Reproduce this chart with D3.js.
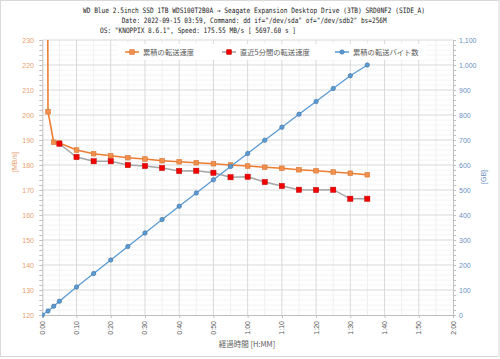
<!DOCTYPE html>
<html><head><meta charset="utf-8">
<script src="https://cdn.jsdelivr.net/npm/d3@7"></script>
<style>body{margin:0;background:#fff}svg{display:block}</style>
</head><body>
<svg id="c" width="500" height="359"></svg>
<script>
// ---- data ----
const titleLines = [
  "WD Blue 2.5inch SSD 1TB WDS100T2B0A → Seagate Expansion Desktop Drive (3TB) SRD0NF2 (SIDE_A)",
  "Date: 2022-09-15 03:59, Command: dd if=\"/dev/sda\" of=\"/dev/sdb2\" bs=256M",
  "OS: \"KNOPPIX 8.6.1\", Speed: 175.55 MB/s [ 5697.60 s ]"
];
const seriesNames = ["累積の転送速度", "直近5分間の転送速度", "累積の転送バイト数"];
const times = [0, 1.667, 3.333, 5, 10, 15, 20, 25, 30, 35, 40, 45, 50, 55, 60, 65, 70, 75, 80, 85, 90, 94.96];
const cumSpeed = [1000, 201.3, 189.1, 188.8, 186.0, 184.5, 183.7, 182.9, 182.4, 181.7, 181.3, 180.9, 180.5, 180.0, 179.6, 179.1, 178.7, 178.1, 177.7, 177.2, 176.7, 176.1];
const recentSpeed = [null, null, null, 188.5, 183.2, 181.5, 181.5, 180.0, 179.6, 178.8, 177.6, 177.7, 176.9, 175.1, 175.3, 173.2, 171.6, 170.1, 170.0, 170.1, 166.5, 166.5];
const cumBytes = [0, 16, 35, 55, 112, 166, 220, 274, 328, 382, 435, 488, 541, 594, 646, 699, 751, 803, 854, 906, 957, 1000];
const xTicks = [0, 10, 20, 30, 40, 50, 60, 70, 80, 90, 100, 110, 120];
const yLeftTicks = [120, 130, 140, 150, 160, 170, 180, 190, 200, 210, 220, 230];
const yRightTicks = [0, 100, 200, 300, 400, 500, 600, 700, 800, 900, 1000, 1100];
const xTitle = "経過時間 [H:MM]", yLeftTitle = "[MB/s]", yRightTitle = "[GB]";

// ---- layout ----
const svg = d3.select("#c");
const L = 42.3, R = 453, T = 40, B = 315;
const x = d3.scaleLinear().domain([0, 120]).range([L, R]);
const yL = d3.scaleLinear().domain([120, 230]).range([B, T]);
const yR = d3.scaleLinear().domain([0, 1100]).range([B, T]);
const fmtT = m => Math.floor(m / 60) + ":" + String(m % 60).padStart(2, "0");
const numFont = "'Liberation Sans', Arial, sans-serif";
const cjkFont = "'Noto Sans CJK JP', sans-serif";

svg.append("rect").attr("x", 0.5).attr("y", 0.5).attr("width", 498.5).attr("height", 356)
  .attr("fill", "#fff").attr("stroke", "#d9d9d9");

// title
const tx = [83, 121.7, 100], tw = [342, 265, 196], ty = [13, 23, 33];
titleLines.forEach((t, i) => {
  svg.append("text").attr("x", tx[i]).attr("y", ty[i]).text(t)
    .attr("font-family", "'DejaVu Sans Mono', monospace").attr("font-size", 7.4)
    .attr("textLength", tw[i]).attr("lengthAdjust", "spacingAndGlyphs").attr("fill", "#222");
});

// gridlines
const g = svg.append("g");
d3.range(5, 120, 10).forEach(m => g.append("line").attr("x1", x(m)).attr("x2", x(m)).attr("y1", T).attr("y2", B).attr("stroke", "#efefef"));
d3.range(122, 230, 2).filter(v => v % 10 !== 0).forEach(v => g.append("line").attr("x1", L).attr("x2", R).attr("y1", yL(v)).attr("y2", yL(v)).attr("stroke", "#f4f4f4"));
xTicks.slice(1, -1).forEach(m => g.append("line").attr("x1", x(m)).attr("x2", x(m)).attr("y1", T).attr("y2", B).attr("stroke", "#d9d9d9"));
yLeftTicks.slice(1).forEach(v => g.append("line").attr("x1", L).attr("x2", R).attr("y1", yL(v)).attr("y2", yL(v)).attr("stroke", "#d9d9d9"));

// axes
const axL = d3.axisLeft(yL).tickValues(d3.range(120, 231, 2)).tickSize(3).tickFormat("");
svg.append("g").attr("transform", `translate(${L},0)`).call(axL)
  .call(s => s.selectAll("line,path").attr("stroke", "#bfbfbf"));
const axR = d3.axisRight(yR).tickValues(d3.range(0, 1101, 20)).tickSize(3).tickFormat("");
svg.append("g").attr("transform", `translate(${R},0)`).call(axR)
  .call(s => s.selectAll("line,path").attr("stroke", "#bfbfbf"));
const axB = d3.axisBottom(x).tickValues(xTicks).tickSize(3).tickFormat("");
svg.append("g").attr("transform", `translate(0,${B})`).call(axB)
  .call(s => s.selectAll("line,path").attr("stroke", "#bfbfbf"));

yLeftTicks.forEach(v => svg.append("text").attr("x", 34).attr("y", yL(v) + 2.5).attr("text-anchor", "end")
  .attr("font-family", numFont).attr("font-size", 7).attr("fill", "#E8A170").text(v));
yRightTicks.forEach(v => svg.append("text").attr("x", 459).attr("y", yR(v) + 2.5)
  .attr("font-family", numFont).attr("font-size", 7).attr("fill", "#6B8FBF").text(d3.format(",")(v)));
xTicks.forEach(m => svg.append("text").attr("transform", `translate(${x(m) + 2.5},321) rotate(-90)`)
  .attr("text-anchor", "end").attr("font-family", numFont).attr("font-size", 7).attr("fill", "#595959").text(fmtT(m)));

svg.append("text").attr("transform", "translate(17,162) rotate(-90)").attr("text-anchor", "middle")
  .attr("font-family", numFont).attr("font-size", 7).attr("fill", "#E8A170").text(yLeftTitle);
svg.append("text").attr("transform", "translate(486,177) rotate(-90)").attr("text-anchor", "middle")
  .attr("font-family", numFont).attr("font-size", 7).attr("fill", "#6B8FBF").text(yRightTitle);
svg.append("text").attr("x", 247).attr("y", 347).attr("text-anchor", "middle")
  .attr("font-family", cjkFont).attr("font-size", 7.5).attr("fill", "#595959").text(xTitle);

// clip
svg.append("clipPath").attr("id", "pc").append("rect").attr("x", L).attr("y", T).attr("width", R - L).attr("height", B - T + 3);
const plot = svg.append("g").attr("clip-path", "url(#pc)");

// legend background
svg.append("rect").attr("x", 118).attr("y", 44).attr("width", 308).attr("height", 16).attr("fill", "#fff");

const ptsOrange = times.map((t, i) => [t, cumSpeed[i]]);
const ptsRed = times.map((t, i) => [t, recentSpeed[i]]).filter(d => d[1] != null);
const ptsBlue = times.map((t, i) => [t, cumBytes[i]]);

const lineL = d3.line().x(d => x(d[0])).y(d => yL(d[1]));
const lineR = d3.line().x(d => x(d[0])).y(d => yR(d[1]));

plot.append("path").attr("d", lineL(ptsOrange)).attr("fill", "none").attr("stroke", "#ED7D31").attr("stroke-width", 1.6);
plot.selectAll(".om").data(ptsOrange.filter(d => d[1] <= 230)).join("rect")
  .attr("x", d => x(d[0]) - 2.3).attr("y", d => yL(d[1]) - 2.3).attr("width", 4.6).attr("height", 4.6)
  .attr("fill", "#F0904E").attr("stroke", "#D9722E").attr("stroke-width", 0.6);

plot.append("path").attr("d", lineL(ptsRed)).attr("fill", "none").attr("stroke", "#A5A5A5").attr("stroke-width", 1.4);
plot.selectAll(".rm").data(ptsRed).join("rect")
  .attr("x", d => x(d[0]) - 2.6).attr("y", d => yL(d[1]) - 2.6).attr("width", 5.2).attr("height", 5.2)
  .attr("fill", "#F20000").attr("stroke", "#C00000").attr("stroke-width", 0.5);

plot.append("path").attr("d", lineR(ptsBlue)).attr("fill", "none").attr("stroke", "#5B9BD5").attr("stroke-width", 1.3);
plot.selectAll(".bm").data(ptsBlue).join("circle")
  .attr("cx", d => x(d[0])).attr("cy", d => yR(d[1])).attr("r", 2.2)
  .attr("fill", "#5B9BD5").attr("stroke", "#41719C").attr("stroke-width", 0.6);

// legend
const legX = [125, 222, 335];
const legStyles = [
  {line: "#ED7D31", mk: "rect", fill: "#F0904E", stroke: "#D9722E"},
  {line: "#A5A5A5", mk: "rect", fill: "#F20000", stroke: "#C00000"},
  {line: "#5B9BD5", mk: "circle", fill: "#5B9BD5", stroke: "#41719C"}
];
seriesNames.forEach((n, i) => {
  const lx = legX[i], ly = 52, s = legStyles[i];
  svg.append("line").attr("x1", lx).attr("x2", lx + 14).attr("y1", ly).attr("y2", ly).attr("stroke", s.line).attr("stroke-width", 1.5);
  if (s.mk === "rect") svg.append("rect").attr("x", lx + 4.7).attr("y", ly - 2.3).attr("width", 4.6).attr("height", 4.6).attr("fill", s.fill).attr("stroke", s.stroke).attr("stroke-width", 0.6);
  else svg.append("circle").attr("cx", lx + 7).attr("cy", ly).attr("r", 2.2).attr("fill", s.fill).attr("stroke", s.stroke).attr("stroke-width", 0.6);
  svg.append("text").attr("x", lx + 18).attr("y", ly + 2.6).attr("font-family", cjkFont).attr("font-size", 7.3)
    .attr("fill", "#595959").text(n);
});
</script>
</body></html>
